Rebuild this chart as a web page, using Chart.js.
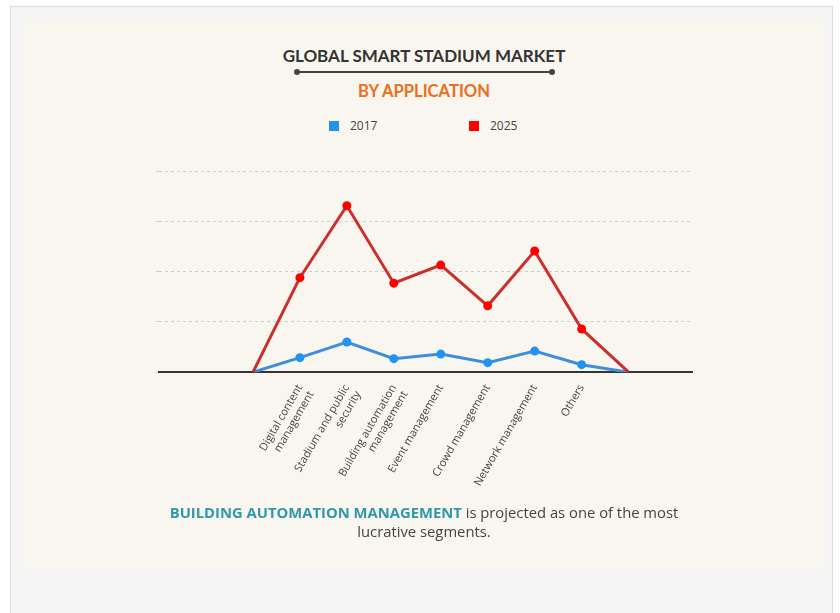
<!DOCTYPE html>
<html>
<head>
<meta charset="utf-8">
<script src="https://cdn.jsdelivr.net/npm/chart.js@4"></script>
<style>
  body { margin: 0; width: 840px; height: 613px; background: #fff; position: relative; overflow: hidden; font-family: "Open Sans", sans-serif; }
  .frame { position: absolute; left: 10px; top: 6px; width: 821px; height: 620px; border: 1px solid #dcdcdc; background: #f5f5f5; }
  .panel { position: absolute; left: 24px; top: 19px; width: 800px; height: 549px; background: #f9f6ef; }
  .center { position: absolute; left: 24px; width: 800px; text-align: center; }
  .title { top: 47px; font: 700 17px/17px Lato, sans-serif; color: #333; }
  .rule { position: absolute; left: 297px; top: 71px; width: 255px; height: 2px; background: #444; }
  .rule::before, .rule::after { content: ''; position: absolute; top: -2px; width: 6px; height: 6px; border-radius: 50%; background: #444; }
  .rule::before { left: -3px; }
  .rule::after { right: -3px; }
  .subtitle { top: 83px; font: 700 16.6px/16px Lato, sans-serif; color: #ec6e1c; }
  .legend { position: absolute; top: 118px; left: 0; width: 840px; height: 16px; }
  .legend .item { position: absolute; top: 0; font: 12px/16px "Open Sans", sans-serif; color: #444; }
  .legend .box { display: inline-block; width: 10px; height: 10px; vertical-align: -1px; margin-right: 11px; }
  .chart { position: absolute; left: 24px; top: 150px; }
  .note { top: 503px; font: 14.8px/19px "Open Sans", sans-serif; color: #444; }
  .note b { color: #2f98aa; font-weight: 700; }
</style>
</head>
<body>
<div class="frame"></div>
<div class="panel"></div>
<div class="center title">GLOBAL SMART STADIUM MARKET</div>
<div class="rule"></div>
<div class="center subtitle">BY APPLICATION</div>
<div class="legend" id="legend"></div>
<div class="chart"><canvas id="c" width="800" height="355"></canvas></div>
<div class="center note"><b>BUILDING AUTOMATION MANAGEMENT</b> is projected as one of the most<br>lucrative segments.</div>
<script>
// segments on the x axis (the two ends of each line sit at zero)
const categories = [
  ['Digital content', 'management'],
  ['Stadium and public', 'security'],
  ['Building automation', 'management'],
  'Event management',
  'Crowd management',
  'Network management',
  'Others',
];
const seriesNames = ['2017', '2025'];
const values2017 = [0, 0.29, 0.60, 0.27, 0.36, 0.19, 0.42, 0.15, 0];
const values2025 = [0, 1.88, 3.31, 1.77, 2.13, 1.32, 2.41, 0.86, 0];
const lineColors = ['#3d8fdb', '#c9302e'];
const pointColors = ['#2193f3', '#ff0000'];
const legendLeft = [329, 469];

// html legend, built from the series
const legend = document.getElementById('legend');
seriesNames.forEach((name, i) => {
  const el = document.createElement('div');
  el.className = 'item';
  el.style.left = legendLeft[i] + 'px';
  el.innerHTML = `<span class="box" style="background:${pointColors[i]}"></span>${name}`;
  legend.appendChild(el);
});

const toPoints = arr => arr.map((v, i) => ({ x: i, y: v }));
const endRadius = n => ctx => (ctx.dataIndex === 0 || ctx.dataIndex === n - 1) ? 0 : 4.5;

new Chart(document.getElementById('c'), {
  type: 'line',
  data: {
    datasets: [values2017, values2025].map((vals, i) => ({
      label: seriesNames[i],
      data: toPoints(vals),
      borderColor: lineColors[i],
      borderWidth: 3,
      pointBackgroundColor: pointColors[i],
      pointBorderWidth: 0,
      pointRadius: endRadius(vals.length),
      tension: 0,
      order: 1 - i,
    })),
  },
  options: {
    responsive: false,
    animation: false,
    layout: { padding: { left: 132, right: 132, top: 21, bottom: 0 } },
    plugins: { legend: { display: false }, tooltip: { enabled: false } },
    scales: {
      x: {
        type: 'linear',
        min: -2,
        max: 9.35,
        afterBuildTicks: scale => { scale.ticks = categories.map((c, i) => ({ value: i + 1 })); },
        ticks: {
          autoSkip: false,
          maxRotation: 60,
          minRotation: 60,
          padding: 10,
          color: '#444',
          font: { family: 'Open Sans', size: 11 },
          callback: v => categories[v - 1],
        },
        grid: { display: false, drawTicks: false },
        border: { color: '#333', width: 2 },
      },
      y: {
        min: 0,
        max: 4,
        ticks: { display: false, stepSize: 1 },
        grid: { color: '#cfcfcf', drawTicks: true, tickLength: 3 },
        border: { display: false, dash: [3, 3] },
      },
    },
  },
});
</script>
</body>
</html>
